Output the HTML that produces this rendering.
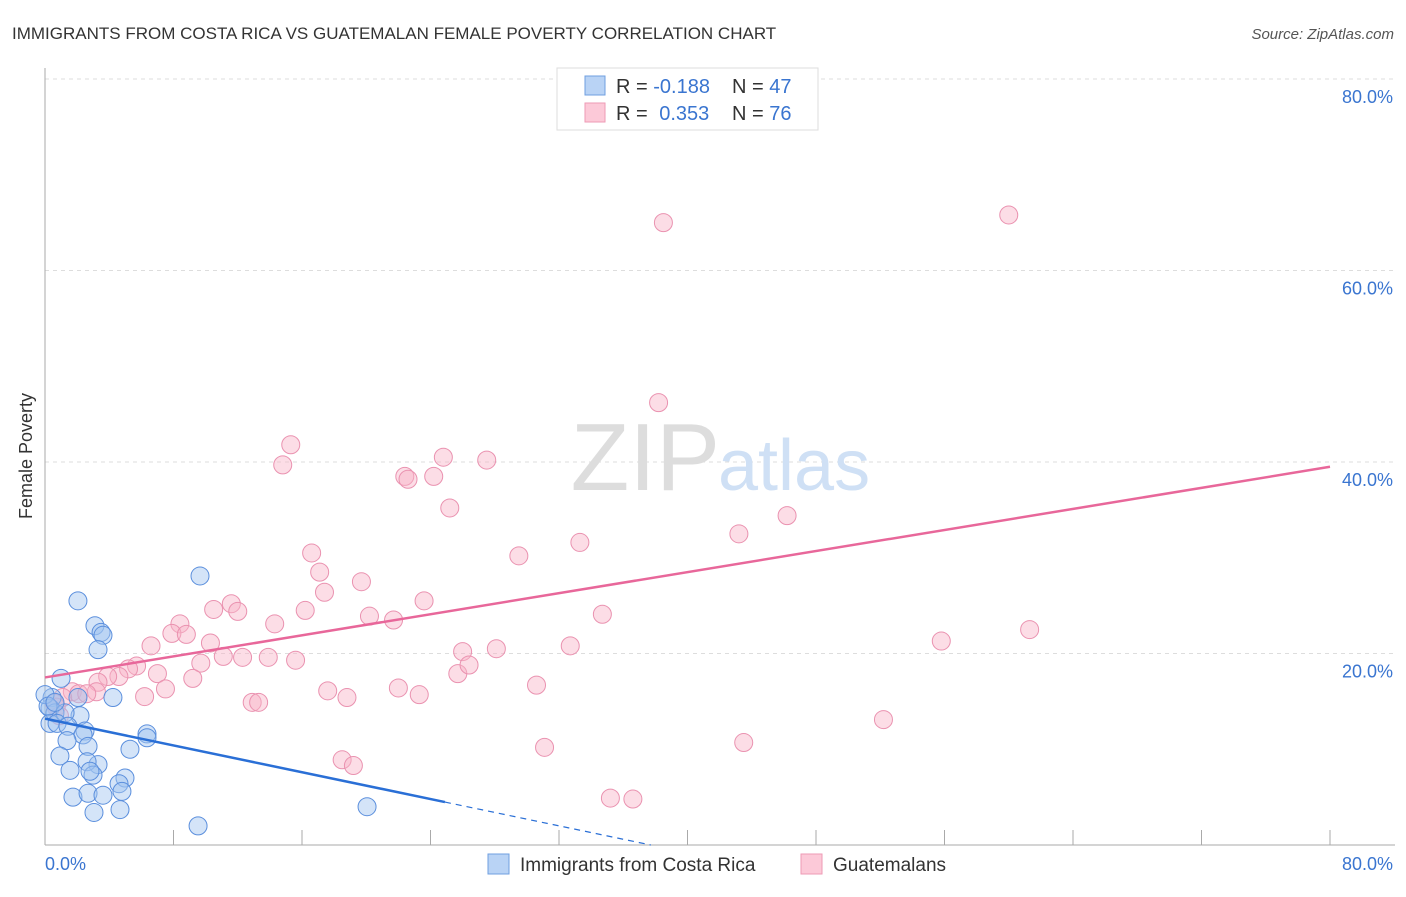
<!DOCTYPE html>
<html><head><meta charset="utf-8"><style>
body{margin:0;background:#fff;font-family:"Liberation Sans",sans-serif;}
svg text{font-family:"Liberation Sans",sans-serif;}
</style></head><body>
<svg id="chart" width="1406" height="892" xmlns="http://www.w3.org/2000/svg">
<text x="12" y="39" font-size="17" fill="#333">IMMIGRANTS FROM COSTA RICA VS GUATEMALAN FEMALE POVERTY CORRELATION CHART</text>
<text x="1394" y="39" font-size="15" fill="#555" font-style="italic" text-anchor="end">Source: ZipAtlas.com</text>
<text x="32" y="456" font-size="18" fill="#333" text-anchor="middle" transform="rotate(-90 32 456)">Female Poverty</text>
<g id="grid"></g>
<g id="axes"></g>
<text x="720" y="490" font-size="96" fill="#ddd" text-anchor="end" font-family="Liberation Serif">ZIP</text>
<text x="718" y="490" font-size="72" fill="#cfe0f5">atlas</text>
<g id="pts"></g>
<g id="lines"></g>
<g>
<rect x="557" y="68" width="261" height="62" fill="#fff" stroke="#ddd"/>
<rect x="585" y="76" width="20" height="19" fill="#b9d3f5" stroke="#6f9fe0"/>
<rect x="585" y="103" width="20" height="19" fill="#fcc9d8" stroke="#ee9ab5"/>
<text x="616" y="93" font-size="20" fill="#333">R = <tspan fill="#3a75d0">-0.188</tspan></text>
<text x="732" y="93" font-size="20" fill="#333">N = <tspan fill="#3a75d0">47</tspan></text>
<text x="616" y="120" font-size="20" fill="#333">R = <tspan fill="#3a75d0" dx="6">0.353</tspan></text>
<text x="732" y="120" font-size="20" fill="#333">N = <tspan fill="#3a75d0">76</tspan></text>
</g>
<g>
<rect x="488" y="854" width="21" height="20" fill="#b9d3f5" stroke="#6f9fe0"/>
<text x="520" y="871" font-size="19" fill="#333">Immigrants from Costa Rica</text>
<rect x="801" y="854" width="21" height="20" fill="#fcc9d8" stroke="#ee9ab5"/>
<text x="833" y="871" font-size="19" fill="#333">Guatemalans</text>
</g>
</svg>
<script>
const yTicks=[20,40,60,80];
const yTickLabels=["20.0%","40.0%","60.0%","80.0%"];
const xTickVals=[0,8,16,24,32,40,48,56,64,72,80];
const blueX=[2.05,9.65,3.11,3.49,3.61,3.30,1.0,4.23,2.05,0.44,6.35,6.35,5.29,0.31,0.62,2.18,1.25,0.31,0.75,1.43,2.49,2.37,1.37,2.68,0.93,1.56,3.30,2.62,2.99,4.98,2.80,4.61,4.79,1.74,2.68,3.61,3.05,4.67,9.53,20.05,0,0.19,0.62];
const blueY=[25.5,28.1,22.9,22.2,21.9,20.4,17.4,15.4,15.4,15.4,11.6,11.2,10.0,14.3,13.8,13.5,13.8,12.7,12.7,12.4,11.9,11.5,10.9,10.3,9.3,7.8,8.4,8.7,7.3,7.0,7.7,6.4,5.6,5.0,5.4,5.2,3.4,3.7,2.0,4.0,15.7,14.5,14.9];
const pinkX=[38.5,60.0,38.2,15.3,14.8,24.8,27.5,22.4,24.2,22.6,25.2,46.2,43.2,29.5,33.3,16.6,17.1,19.7,17.4,23.6,11.6,10.5,12.0,16.2,20.2,21.7,34.7,8.4,7.9,8.8,14.3,10.3,6.6,55.8,61.3,32.7,28.1,26.0,11.1,12.3,13.9,15.6,9.7,5.7,5.2,4.6,3.9,3.3,7.0,9.2,25.7,26.4,7.5,3.2,1.7,2.1,1.1,0.6,2.6,6.2,17.6,22.0,23.3,18.8,30.6,12.9,13.3,52.2,31.1,43.5,18.5,19.2,35.2,36.6,0.7,0.9];
const pinkY=[65.0,65.8,46.2,41.8,39.7,40.5,40.2,38.5,38.5,38.2,35.2,34.4,32.5,30.2,31.6,30.5,28.5,27.5,26.4,25.5,25.2,24.6,24.4,24.5,23.9,23.5,24.1,23.1,22.1,22.0,23.1,21.1,20.8,21.3,22.5,20.8,20.5,20.2,19.7,19.6,19.6,19.3,19.0,18.7,18.4,17.6,17.6,17.0,17.9,17.4,17.9,18.8,16.3,16.0,16.0,15.8,15.4,14.8,15.8,15.5,16.1,16.4,15.7,15.4,16.7,14.9,14.9,13.1,10.2,10.7,8.9,8.3,4.9,4.8,14.4,13.5];
const pinkTrend=[17.5,39.5]; // y at x=0 and x=80
const blueTrend=[13.2,-0.35]; // intercept, slope
const blueSolidEnd=24.9;
const NS="http://www.w3.org/2000/svg";
const X=v=>45+v*(1285/80), Y=v=>845-v*(766/80);
function mk(tag,attrs,parent){const e=document.createElementNS(NS,tag);for(const k in attrs)e.setAttribute(k,attrs[k]);parent.appendChild(e);return e;}
const grid=document.getElementById('grid'),axes=document.getElementById('axes'),pts=document.getElementById('pts'),lines=document.getElementById('lines');
yTicks.forEach((t,i)=>{
 const l=mk('line',{x1:45,x2:1395,y1:Y(t),y2:Y(t),stroke:'#ddd','stroke-dasharray':'4,4'},grid);
 
 
 const tx=mk('text',{x:1393,y:Y(t)+24,'font-size':18,fill:'#3a75d0','text-anchor':'end'},grid);
 tx.textContent=yTickLabels[i];
 
 
});
mk('line',{x1:45,x2:45,y1:68,y2:845,stroke:'#aaa'},axes);
mk('line',{x1:45,x2:1395,y1:845,y2:845,stroke:'#aaa'},axes);
xTickVals.forEach(t=>{
 const l=mk('line',{x1:X(t),x2:X(t),y1:830,y2:845,stroke:'#aaa'},axes);
 
 
});
const xl0=mk('text',{x:45,y:870,'font-size':18,fill:'#3a75d0'},axes);xl0.textContent='0.0%';


const xl1=mk('text',{x:1393,y:870,'font-size':18,fill:'#3a75d0','text-anchor':'end'},axes);xl1.textContent='80.0%';


pinkX.forEach((x,i)=>{
 const c=mk('circle',{cx:X(x),cy:Y(pinkY[i]),r:9,fill:'rgba(248,180,200,0.45)',stroke:'#ea92b0','stroke-width':1},pts);
 
 
});
blueX.forEach((x,i)=>{
 const c=mk('circle',{cx:X(x),cy:Y(blueY[i]),r:9,fill:'rgba(160,196,240,0.45)',stroke:'#5b8fdd','stroke-width':1},pts);
 
 
});
const pl=mk('line',{x1:X(0),y1:Y(pinkTrend[0]),x2:X(80),y2:Y(pinkTrend[1]),stroke:'#e8679a','stroke-width':2.5},lines);


const bl=mk('line',{x1:X(0),y1:Y(blueTrend[0]),x2:X(blueSolidEnd),y2:Y(blueTrend[0]+blueTrend[1]*blueSolidEnd),stroke:'#2a6fd6','stroke-width':2.5},lines);


const xz=-blueTrend[0]/blueTrend[1];
const bd=mk('line',{x1:X(blueSolidEnd),y1:Y(blueTrend[0]+blueTrend[1]*blueSolidEnd),x2:X(xz),y2:Y(0),stroke:'#2a6fd6','stroke-width':1.2,'stroke-dasharray':'6,5'},lines);


</script>
</body></html>
